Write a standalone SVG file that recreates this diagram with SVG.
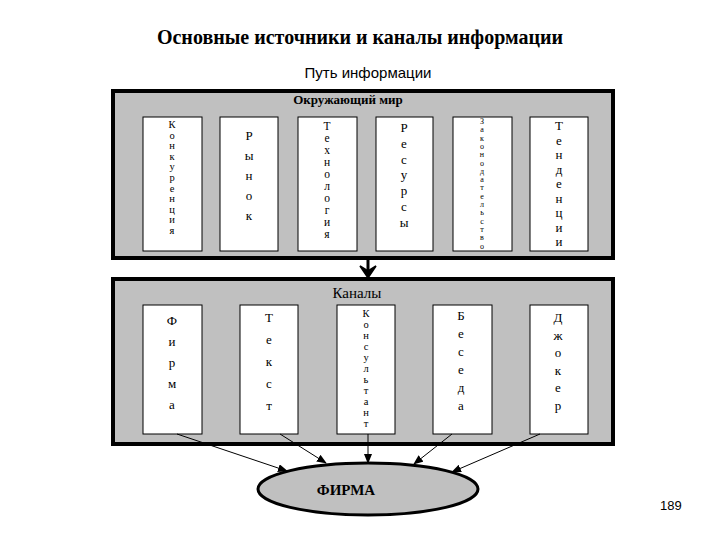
<svg xmlns="http://www.w3.org/2000/svg" width="720" height="540" viewBox="0 0 720 540">
<style>
.frame{fill:#c0c0c0;stroke:#000;stroke-width:4}
.card{fill:#fff;stroke:#000;stroke-width:1}
.v{font-family:"Liberation Serif",serif;font-size:13px;text-anchor:middle;fill:#000}
.s11{font-size:10.5px}
.s12{font-size:11.5px}
.s8{font-size:8px}
.conn{stroke:#000;stroke-width:1;fill:none;marker-end:url(#ah)}
</style>
<defs>
<marker id="ah" markerWidth="10" markerHeight="8" refX="9" refY="4" orient="auto" markerUnits="userSpaceOnUse"><path d="M0,0 L10,4 L0,8 z" fill="#000"/></marker>
</defs>
<rect width="720" height="540" fill="#fff"/>
<text x="360" y="44" font-family="Liberation Serif,serif" font-size="20" font-weight="bold" text-anchor="middle">Основные источники и каналы информации</text>
<text x="368" y="78" font-family="Liberation Sans,sans-serif" font-size="15" text-anchor="middle">Путь информации</text>
<g id="world">
<rect class="frame" x="113" y="91" width="500" height="167"/>
<text x="348" y="104" font-family="Liberation Serif,serif" font-size="13" font-weight="bold" text-anchor="middle">Окружающий мир</text>
</g>
<g id="konk"><rect class="card" x="143" y="117" width="59" height="134"/>
<text class="v s11" y="128"><tspan x="172">К</tspan><tspan x="172" dy="10.6">о</tspan><tspan x="172" dy="10.6">н</tspan><tspan x="172" dy="10.6">к</tspan><tspan x="172" dy="10.6">у</tspan><tspan x="172" dy="10.6">р</tspan><tspan x="172" dy="10.6">е</tspan><tspan x="172" dy="10.6">н</tspan><tspan x="172" dy="10.6">ц</tspan><tspan x="172" dy="10.6">и</tspan><tspan x="172" dy="10.6">я</tspan></text></g>
<g id="rynok"><rect class="card" x="220" y="117" width="58" height="134"/>
<text class="v" y="140"><tspan x="249">Р</tspan><tspan x="249" dy="20">ы</tspan><tspan x="249" dy="20">н</tspan><tspan x="249" dy="20">о</tspan><tspan x="249" dy="20">к</tspan></text></g>
<g id="tech"><rect class="card" x="298" y="117" width="59" height="134"/>
<text class="v s12" y="130"><tspan x="327">Т</tspan><tspan x="327" dy="12">е</tspan><tspan x="327" dy="12">х</tspan><tspan x="327" dy="12">н</tspan><tspan x="327" dy="12">о</tspan><tspan x="327" dy="12">л</tspan><tspan x="327" dy="12">о</tspan><tspan x="327" dy="12">г</tspan><tspan x="327" dy="12">и</tspan><tspan x="327" dy="12">я</tspan></text></g>
<g id="res"><rect class="card" x="376" y="117" width="57" height="134"/>
<text class="v" y="132"><tspan x="404">Р</tspan><tspan x="404" dy="15.8">е</tspan><tspan x="404" dy="15.8">с</tspan><tspan x="404" dy="15.8">у</tspan><tspan x="404" dy="15.8">р</tspan><tspan x="404" dy="15.8">с</tspan><tspan x="404" dy="15.8">ы</tspan></text></g>
<g id="zakon"><rect class="card" x="453" y="117" width="59" height="134"/>
<text class="v s8" y="124"><tspan x="482">З</tspan><tspan x="482" dy="8.3">а</tspan><tspan x="482" dy="8.3">к</tspan><tspan x="482" dy="8.3">о</tspan><tspan x="482" dy="8.3">н</tspan><tspan x="482" dy="8.3">о</tspan><tspan x="482" dy="8.3">д</tspan><tspan x="482" dy="8.3">а</tspan><tspan x="482" dy="8.3">т</tspan><tspan x="482" dy="8.3">е</tspan><tspan x="482" dy="8.3">л</tspan><tspan x="482" dy="8.3">ь</tspan><tspan x="482" dy="8.3">с</tspan><tspan x="482" dy="8.3">т</tspan><tspan x="482" dy="8.3">в</tspan><tspan x="482" dy="8.3">о</tspan></text></g>
<g id="tend"><rect class="card" x="530" y="117" width="58" height="134"/>
<text class="v" y="130"><tspan x="559">Т</tspan><tspan x="559" dy="14.5">е</tspan><tspan x="559" dy="14.5">н</tspan><tspan x="559" dy="14.5">д</tspan><tspan x="559" dy="14.5">е</tspan><tspan x="559" dy="14.5">н</tspan><tspan x="559" dy="14.5">ц</tspan><tspan x="559" dy="14.5">и</tspan><tspan x="559" dy="14.5">и</tspan></text></g>
<g id="channels">
<rect class="frame" x="113" y="279" width="500" height="165"/>
<text x="357" y="298" font-family="Liberation Serif,serif" font-size="15" text-anchor="middle">Каналы</text>
</g>
<g id="firma-c"><rect class="card" x="143" y="305" width="59" height="129"/>
<text class="v" y="325"><tspan x="172">Ф</tspan><tspan x="172" dy="21">и</tspan><tspan x="172" dy="21">р</tspan><tspan x="172" dy="21">м</tspan><tspan x="172" dy="21">а</tspan></text></g>
<g id="tekst"><rect class="card" x="240" y="305" width="58" height="129"/>
<text class="v" y="322"><tspan x="269">Т</tspan><tspan x="269" dy="22">е</tspan><tspan x="269" dy="22">к</tspan><tspan x="269" dy="22">с</tspan><tspan x="269" dy="22">т</tspan></text></g>
<g id="konsult"><rect class="card" x="337" y="305" width="58" height="129"/>
<text class="v s11" y="317"><tspan x="366">К</tspan><tspan x="366" dy="11">о</tspan><tspan x="366" dy="11">н</tspan><tspan x="366" dy="11">с</tspan><tspan x="366" dy="11">у</tspan><tspan x="366" dy="11">л</tspan><tspan x="366" dy="11">ь</tspan><tspan x="366" dy="11">т</tspan><tspan x="366" dy="11">а</tspan><tspan x="366" dy="11">н</tspan><tspan x="366" dy="11">т</tspan></text></g>
<g id="beseda"><rect class="card" x="433" y="305" width="59" height="129"/>
<text class="v" y="320"><tspan x="461">Б</tspan><tspan x="461" dy="18">е</tspan><tspan x="461" dy="18">с</tspan><tspan x="461" dy="18">е</tspan><tspan x="461" dy="18">д</tspan><tspan x="461" dy="18">а</tspan></text></g>
<g id="joker"><rect class="card" x="530" y="305" width="58" height="129"/>
<text class="v" y="322"><tspan x="558">Д</tspan><tspan x="558" dy="17.5">ж</tspan><tspan x="558" dy="17.5">о</tspan><tspan x="558" dy="17.5">к</tspan><tspan x="558" dy="17.5">е</tspan><tspan x="558" dy="17.5">р</tspan></text></g>
<g id="firm">
<ellipse cx="368" cy="489" rx="110" ry="26" fill="#c0c0c0" stroke="#000" stroke-width="3"/>
<text x="346" y="495" font-family="Liberation Serif,serif" font-size="15" font-weight="bold" text-anchor="middle">ФИРМА</text>
</g>
<g id="connectors">
<line x1="368" y1="260" x2="368" y2="272" stroke="#000" stroke-width="3"/>
<path d="M360,266 L368,278 L376,266 L368,271 z" fill="#000" stroke="#000" stroke-width="1.5"/>
<line class="conn" x1="177" y1="434" x2="287" y2="471"/>
<line class="conn" x1="280" y1="434" x2="326" y2="463"/>
<line class="conn" x1="368" y1="434" x2="368" y2="463"/>
<line class="conn" x1="452" y1="434" x2="414" y2="464"/>
<line class="conn" x1="540" y1="434" x2="452" y2="472"/>
</g>
<text x="660" y="510" font-family="Liberation Sans,sans-serif" font-size="13">189</text>
</svg>
